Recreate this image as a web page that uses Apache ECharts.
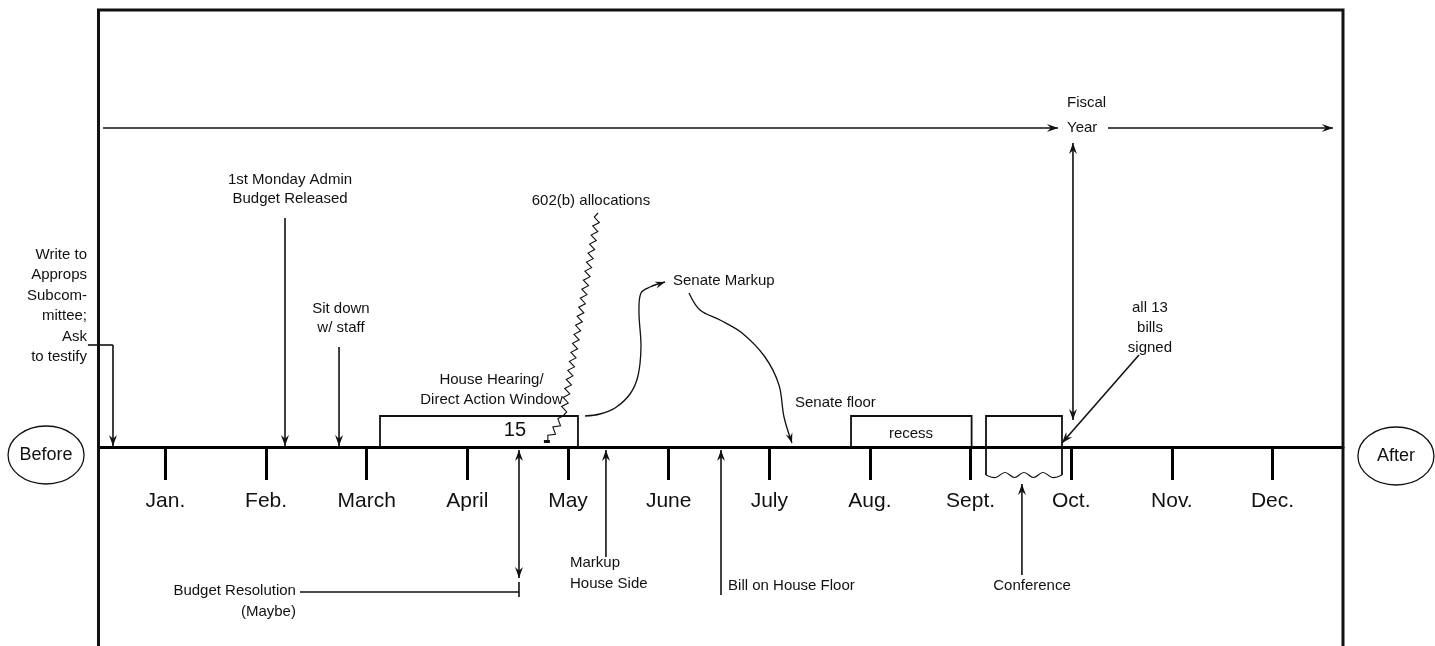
<!DOCTYPE html>
<html><head><meta charset="utf-8">
<script src="https://cdn.jsdelivr.net/npm/echarts@6/dist/echarts.min.js"></script>
<style>html,body{margin:0;padding:0;background:#fff}#c{width:1435px;height:646px}</style>
</head><body><div id="c"></div>
<script>
// ---- data (x in months, Jan = 1; y = offset above the timeline) ----
const months = ['Jan.','Feb.','March','April','May','June','July','Aug.','Sept.','Oct.','Nov.','Dec.'];
const monthTicks = [1,2,3,4,5,6,7,8,9,10,11,12];
const xRange = [0.35, 12.7];
const yRange = [0, 437];
const frame = [[0.335,-205],[0.335,437],[12.7,437],[12.7,-205]];

// [x1, y1, x2, y2, headAtStart, headAtEnd]
const arrows = [
  [0.38, 319, 9.868, 319, 0, 1],
  [10.365, 319, 12.6, 319, 0, 1],
  [10.017, 304, 10.017, 27, 1, 1],
  [0.479, 102, 0.479, 1, 0, 1],
  [2.188, 229, 2.188, 1, 0, 1],
  [2.725, 100, 2.725, 1, 0, 1],
  [10.673, 92, 9.908, 4, 0, 1],
  [5.377, -110, 5.377, -3, 0, 1],
  [6.52, -148, 6.52, -3, 0, 1],
  [4.513, -131, 4.513, -3, 1, 1],
  [9.51, -128, 9.51, -37, 0, 1]
];
const connectors = [
  [[0.23, 102], [0.479, 102]],
  [[2.337, -145], [4.513, -145]],
  [[4.513, -135], [4.513, -150]]
];
// [x1, x2, top, bottom, wavyBottom]
const boxes = [
  [3.132, 5.099, 31, 0, 0],
  [7.812, 9.01, 31, 0, 0],
  [9.153, 9.908, 31, -28, 1]
];
const allocationPath = [[5.298, 234], [4.95, 31], [4.80, 6]];
const curves = [
  [[5.169,31],[5.318,33],[5.467,39],[5.616,53],[5.695,71],[5.725,100],[5.705,135],[5.725,154],[5.815,160],[5.964,165]],
  [[6.202,154],[6.311,137],[6.51,127],[6.729,114],[6.957,90],[7.096,62],[7.146,30],[7.225,4]]
];
const ovals = [
  {t: 'Before', x: -0.186, y: -8},
  {t: 'After', x: 13.226, y: -9}
];
const notes = [
  {t: 'Write to\nApprops\nSubcom-\nmittee;\nAsk\nto testify', x: 0.221, y: 141, align: 'right', lh: 20.5},
  {t: '1st Monday Admin\nBudget Released', x: 2.238, y: 257.5, align: 'center', lh: 19.5},
  {t: 'Sit down\nw/ staff', x: 2.744, y: 128.5, align: 'center', lh: 19.5},
  {t: 'House Hearing/\nDirect Action Window', x: 4.24, y: 57, align: 'center', lh: 20},
  {t: '602(b) allocations', x: 5.228, y: 246, align: 'center', lh: 18},
  {t: 'Senate Markup', x: 6.043, y: 166, align: 'left', lh: 18},
  {t: 'Senate floor', x: 7.255, y: 44, align: 'left', lh: 18},
  {t: 'recess', x: 8.408, y: 13, align: 'center', lh: 18},
  {t: '15', x: 4.473, y: 17, align: 'center', lh: 22, size: 20},
  {t: 'Fiscal\nYear', x: 9.958, y: 331.5, align: 'left', lh: 25},
  {t: 'all 13\nbills\nsigned', x: 10.782, y: 119, align: 'center', lh: 20},
  {t: 'Markup\nHouse Side', x: 5.02, y: -126.5, align: 'left', lh: 21},
  {t: 'Bill on House Floor', x: 6.59, y: -139, align: 'left', lh: 18},
  {t: 'Conference', x: 9.61, y: -139, align: 'center', lh: 18},
  {t: 'Budget Resolution\n(Maybe)', x: 2.297, y: -154.5, align: 'right', lh: 21}
];

// ---- drawing helpers ----
const INK = '#111';
const FONT = 'Liberation Sans, Arial, sans-serif';
function head(tip, from, len, half) {
  const dx = tip[0] - from[0], dy = tip[1] - from[1];
  const d = Math.hypot(dx, dy) || 1;
  const ux = dx / d, uy = dy / d, px = -uy, py = ux;
  const bx = tip[0] - ux * len, by = tip[1] - uy * len;
  const nx = tip[0] - ux * len * 0.65, ny = tip[1] - uy * len * 0.65;
  return {type: 'polygon', shape: {points: [tip, [bx + px * half, by + py * half], [nx, ny], [bx - px * half, by - py * half]]}, style: {fill: INK}};
}
function zig(a, b, step, amp) {
  const dx = b[0] - a[0], dy = b[1] - a[1], d = Math.hypot(dx, dy);
  const n = Math.max(2, Math.round(d / step));
  const ux = dx / d, uy = dy / d, pts = [a];
  for (let i = 1; i < n; i++) {
    const s = (i % 2 ? 1 : -1) * amp;
    pts.push([a[0] + dx * i / n - uy * s, a[1] + dy * i / n + ux * s]);
  }
  pts.push(b);
  return pts;
}
const lineStyle = (w) => ({stroke: INK, lineWidth: w, fill: null});

const chart = echarts.init(document.getElementById('c'));
chart.setOption({
  animation: false,
  backgroundColor: '#fff',
  grid: {left: 100, right: 92, top: 10, bottom: 199, containLabel: false, outerBoundsMode: 'none'},
  xAxis: {
    type: 'value', min: xRange[0], max: xRange[1],
    axisLine: {show: true, onZero: false, lineStyle: {color: '#000', width: 3}},
    axisTick: {show: true, customValues: monthTicks, length: 33, lineStyle: {color: '#000', width: 3}},
    axisLabel: {show: true, customValues: monthTicks, margin: 44, fontSize: 21, fontFamily: FONT, color: INK,
      formatter: v => months[Math.round(v) - 1] || ''},
    splitLine: {show: false}
  },
  yAxis: {type: 'value', min: yRange[0], max: yRange[1], show: false},
  series: [
    {type: 'custom', clip: false, silent: true, data: [0],
      renderItem: (p, api) => ({type: 'polyline', shape: {points: frame.map(q => api.coord(q))}, style: lineStyle(3)})},
    {type: 'custom', clip: false, silent: true, data: arrows,
      renderItem: (p, api) => {
        const a = api.coord([api.value(0), api.value(1)]);
        const b = api.coord([api.value(2), api.value(3)]);
        const ch = [{type: 'line', shape: {x1: a[0], y1: a[1], x2: b[0], y2: b[1]}, style: lineStyle(1.6)}];
        if (api.value(4)) ch.push(head(a, b, 11, 4));
        if (api.value(5)) ch.push(head(b, a, 11, 4));
        return {type: 'group', children: ch};
      }},
    {type: 'custom', clip: false, silent: true, data: connectors.map((c, i) => [i]),
      renderItem: (p, api) => ({type: 'polyline', shape: {points: connectors[p.dataIndex].map(q => api.coord(q))}, style: lineStyle(1.6)})},
    {type: 'custom', clip: false, silent: true, data: boxes,
      renderItem: (p, api) => {
        const x1 = api.value(0), x2 = api.value(1), t = api.value(2), bt = api.value(3);
        const pts = [api.coord([x1, bt]), api.coord([x1, t]), api.coord([x2, t]), api.coord([x2, bt])];
        const ch = [{type: 'polyline', shape: {points: pts}, style: lineStyle(1.8)}];
        if (api.value(4)) {
          ch.push({type: 'polyline', shape: {points: zig(pts[0], pts[3], 9.5, 2.5), smooth: 0.4}, style: lineStyle(1.2)});
        }
        return {type: 'group', children: ch};
      }},
    {type: 'custom', clip: false, silent: true, data: [0],
      renderItem: (p, api) => {
        const c = allocationPath.map(q => api.coord(q));
        const pts = zig(c[0], c[1], 4.6, 3).concat(zig(c[1], c[2], 4.6, 3).slice(1));
        const end = pts[pts.length - 1];
        return {type: 'group', children: [
          {type: 'polyline', shape: {points: pts}, style: lineStyle(1.1)},
          {type: 'rect', shape: {x: end[0] - 4, y: end[1] - 1, width: 6, height: 3}, style: {fill: INK}}
        ]};
      }},
    {type: 'custom', clip: false, silent: true, data: curves.map((c, i) => [i]),
      renderItem: (p, api) => {
        const pts = curves[p.dataIndex].map(q => api.coord(q));
        const n = pts.length;
        return {type: 'group', children: [
          {type: 'polyline', shape: {points: pts, smooth: 0.35}, style: lineStyle(1.3)},
          head(pts[n - 1], pts[n - 2], 10, 3.5)
        ]};
      }},
    {type: 'custom', clip: false, silent: true, data: ovals.map(o => [o.x, o.y]),
      renderItem: (p, api) => {
        const c = api.coord([api.value(0), api.value(1)]);
        return {type: 'group', children: [
          {type: 'ellipse', shape: {cx: c[0], cy: c[1], rx: 38, ry: 29}, style: {stroke: INK, lineWidth: 1.3, fill: '#fff'}},
          {type: 'text', x: c[0], y: c[1], style: {text: ovals[p.dataIndex].t, fill: INK, fontSize: 18, fontFamily: FONT, align: 'center', verticalAlign: 'middle'}}
        ]};
      }},
    {type: 'custom', clip: false, silent: true, data: notes.map(n => [n.x, n.y]),
      renderItem: (p, api) => {
        const n = notes[p.dataIndex];
        const c = api.coord([api.value(0), api.value(1)]);
        return {type: 'text', x: c[0], y: c[1], style: {text: n.t, fill: INK, fontSize: n.size || 15, fontFamily: FONT,
          align: n.align, verticalAlign: 'middle', lineHeight: n.lh}};
      }}
  ]
});
</script></body></html>
